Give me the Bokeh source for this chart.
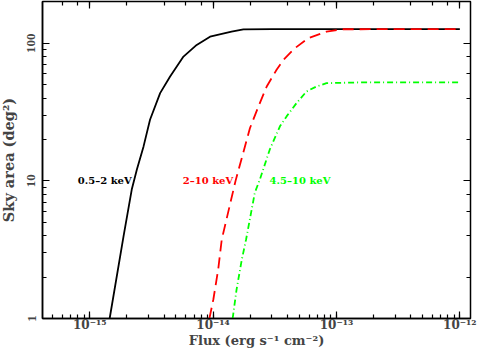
from bokeh.plotting import figure
from bokeh.models import Range1d, LogAxis, Label, CustomJSTickFormatter, LogTicker
from bokeh.embed import file_html
from bokeh.resources import INLINE

# 0.5-2 keV band (black, solid)
flux_soft = [1.45e-15, 1.88e-15, 2.19e-15, 2.41e-15, 2.73e-15, 3.08e-15, 3.72e-15,
             4.48e-15, 5.75e-15, 7.36e-15, 9.44e-15, 1.41e-14, 1.76e-14, 3.0e-14,
             1.0e-13, 1.0e-12]
area_soft = [1.0, 3.97, 8.65, 12.1, 17.8, 27.8, 43.4,
             57.3, 80.0, 97.2, 111.6, 121.4, 126.0, 126.5,
             126.5, 126.5]

# 2-10 keV band (red, dashed)
flux_hard = [9.33e-15, 1.005e-14, 1.10e-14, 1.175e-14, 1.52e-14, 1.99e-14, 2.33e-14,
             2.72e-14, 3.27e-14, 3.71e-14, 4.60e-14, 5.90e-14, 8.30e-14, 1.13e-13,
             3.0e-13, 1.0e-12]
area_hard = [1.0, 1.38, 2.28, 3.75, 10.0, 24.2, 34.7,
             48.5, 64.1, 75.7, 92.0, 108.7, 121.4, 126.3,
             126.5, 126.5]

# 4.5-10 keV band (green, dash-dot)
flux_ultra = [1.44e-14, 1.55e-14, 1.71e-14, 1.85e-14, 2.18e-14, 2.39e-14, 2.88e-14,
              3.48e-14, 3.94e-14, 4.74e-14, 5.71e-14, 6.89e-14, 8.30e-14, 1.55e-13,
              1.0e-12]
area_ultra = [1.0, 1.63, 2.69, 3.75, 8.23, 10.2, 16.9,
              24.9, 29.4, 36.7, 44.6, 48.5, 51.3, 51.9,
              52.0]

band_labels = ["0.5–2 keV", "2–10 keV", "4.5–10 keV"]
band_colors = ["black", "#ff0000", "#00ff00"]
label_x = [8.0e-16, 5.68e-15, 2.87e-14]
label_y = 10.0

x_title = "Flux (erg s⁻¹ cm⁻²)"
y_title = "Sky area (deg²)"

FONT = "DejaVu Serif"
TICK_FONT = "Liberation Serif"

p = figure(width=483, height=354, x_axis_type="log", y_axis_type="log",
           x_range=Range1d(4.14e-16, 1.22e-12), y_range=Range1d(1, 201),
           output_backend="svg", toolbar_location=None,
           min_border_left=45, min_border_right=9, min_border_top=5,
           min_border_bottom=30, margin=(-4, -4, -4, -4))
p.grid.visible = False
p.outline_line_color = "black"
p.outline_line_width = 1.5
p.background_fill_color = "white"
p.border_fill_color = "white"

xfmt = CustomJSTickFormatter(code="""
const e = Math.round(Math.log10(tick));
const sup = {"-":"\u207b","0":"\u2070","1":"\u00b9","2":"\u00b2","3":"\u00b3","4":"\u2074",
             "5":"\u2075","6":"\u2076","7":"\u2077","8":"\u2078","9":"\u2079"};
return "10" + String(e).split("").map(c => sup[c]).join("");
""")
yfmt = CustomJSTickFormatter(code="return String(Math.round(tick));")


def style_axis(ax):
    ax.axis_line_width = 1.5
    ax.major_tick_in = 7
    ax.major_tick_out = 0
    ax.minor_tick_in = 4
    ax.minor_tick_out = 0
    ax.major_tick_line_width = 1.2
    ax.minor_tick_line_width = 1.2
    ax.major_tick_line_color = "black"
    ax.minor_tick_line_color = "black"


for ax in p.xaxis:
    style_axis(ax)
    ax.formatter = xfmt
    ax.axis_label = x_title
    ax.major_label_text_font = FONT
    ax.major_label_text_font_style = "bold"
    ax.major_label_text_font_size = "12px"
    ax.major_label_standoff = -1
    ax.axis_label_text_font = FONT
    ax.axis_label_text_font_style = "bold"
    ax.axis_label_text_font_size = "13px"
    ax.axis_label_standoff = -2

for ax in p.yaxis:
    style_axis(ax)
    ax.formatter = yfmt
    ax.axis_label = y_title
    ax.major_label_orientation = "vertical"
    ax.major_label_text_font = TICK_FONT
    ax.major_label_text_font_style = "bold"
    ax.major_label_text_font_size = "13px"
    ax.major_label_standoff = 7
    ax.axis_label_text_font = FONT
    ax.axis_label_text_font_style = "bold"
    ax.axis_label_text_font_size = "14.5px"
    ax.axis_label_standoff = 8

for loc in ["right", "above"]:
    ax = LogAxis(ticker=LogTicker(), formatter=CustomJSTickFormatter(code="return '';"))
    style_axis(ax)
    ax.major_label_text_font_size = "1px"
    ax.major_label_standoff = 0
    ax.axis_line_color = None
    p.add_layout(ax, loc)

p.line(flux_soft, area_soft, line_color=band_colors[0], line_width=1.8)
p.line(flux_hard, area_hard, line_color=band_colors[1], line_width=1.8, line_dash="11 6")
p.line(flux_ultra, area_ultra, line_color=band_colors[2], line_width=1.8, line_dash="6 3 1 3")

for txt, col, lx in zip(band_labels, band_colors, label_x):
    p.add_layout(Label(x=lx, y=label_y, text=txt, text_color=col, text_font=FONT,
                       text_font_style="bold", text_font_size="10px",
                       text_baseline="middle", text_align="left"))

open("out.html", "w").write(file_html(p, INLINE))
